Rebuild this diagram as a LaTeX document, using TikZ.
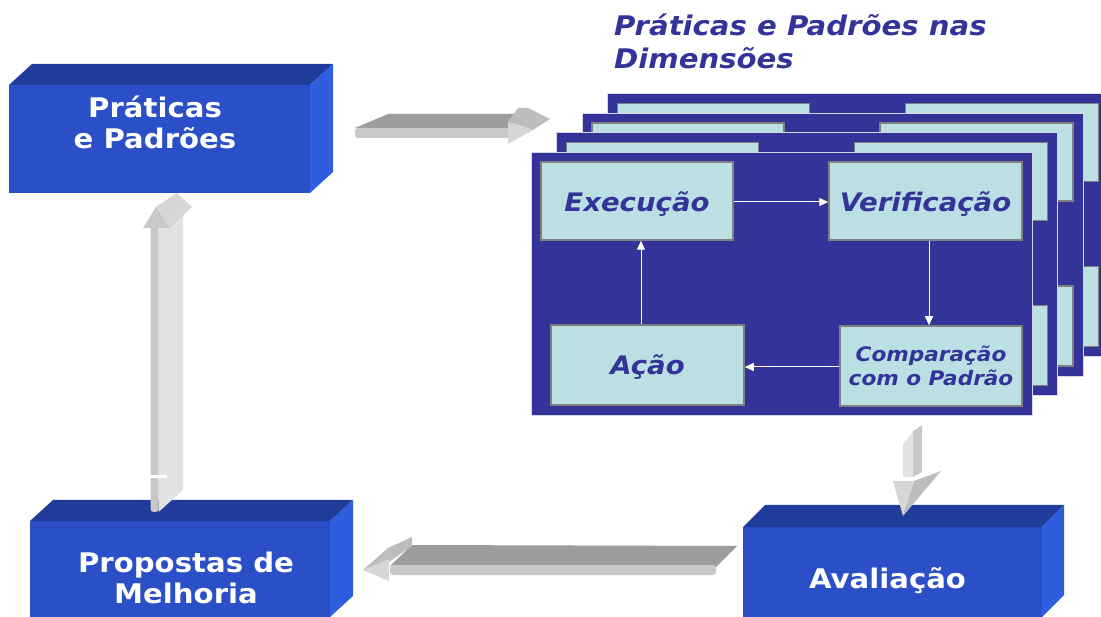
\documentclass[tikz,border=0pt]{standalone}
\usepackage{fontspec}
\setmainfont{DejaVu Sans}[FakeStretch=1.08]
\usetikzlibrary{arrows.meta}
\definecolor{bfront}{HTML}{2A4FC6}
\definecolor{btop}{HTML}{203C9A}
\definecolor{bside}{HTML}{2E5DE0}
\definecolor{navy}{HTML}{343399}
\definecolor{cyanbox}{HTML}{BAE0E4}
\definecolor{boxline}{HTML}{808080}
\definecolor{txtnavy}{HTML}{333399}
\definecolor{gA}{HTML}{9C9C9C}
\definecolor{gB}{HTML}{C8C8C8}
\definecolor{gC}{HTML}{BDBDBD}
\definecolor{gD}{HTML}{D6D6D6}
\definecolor{gE}{HTML}{E2E2E2}
\begin{document}
\begin{tikzpicture}[x=1pt,y=-1pt,
  frontface/.style={fill=bfront, draw=none, inner sep=0pt, outer sep=0pt, anchor=north west},
  topface/.style={fill=btop},
  sideface/.style={fill=bside},
  boxtext/.style={text=white, font=\bfseries\fontsize{27}{31}\selectfont, align=center, inner sep=0pt},
  stepbox/.style={fill=cyanbox, draw=boxline, line width=1.5pt, inner sep=0pt,
    text=txtnavy, font=\bfseries\itshape\fontsize{25.5}{30}\selectfont, align=center},
  framebg/.style={fill=navy, draw=white!80!navy, line width=0.8pt},
  backbox/.style={fill=cyanbox, draw=boxline, line width=1.5pt},
  flow/.style={draw=white, line width=1pt, -{Triangle[width=8pt,length=9pt]}}
]
\useasboundingbox (0,0) rectangle (1101,617);
\clip (0,0) rectangle (1101,617);

% ---------- title ----------
\node[anchor=west, inner sep=0pt, align=left, text=txtnavy,
  font=\bfseries\itshape\fontsize{27}{33}\selectfont] (title) at (614,41)
  {Práticas e Padrões nas\\Dimensões};

% ---------- back frames ----------
\foreach \k in {3,2,1}{
  \begin{scope}[shift={({25.5*\k},{-19.5*\k})}]
    \path[framebg] (531,152) rectangle (1032,415);
    \path[backbox] (541,162) rectangle (733,240);
    \path[backbox] (829,162) rectangle (1022,240);
    \path[backbox] (551,325) rectangle (744,405);
    \path[backbox] (840,325) rectangle (1022,405);
  \end{scope}
}
% ---------- front frame ----------
\node[framebg, minimum width=501pt, minimum height=263pt, inner sep=0pt, anchor=north west] (frame) at (531,152) {};

\node[stepbox, minimum width=192pt, minimum height=78pt, text height=22pt, text depth=0pt] (exec) at (637,201) {Execução};
\node[stepbox, minimum width=193pt, minimum height=78pt, text height=22pt, text depth=0pt] (verif) at (925.5,201) {Verificação};
\node[stepbox, minimum width=193pt, minimum height=80pt, text height=20pt, text depth=0pt] (acao) at (647.5,365) {Ação};
\node[stepbox, minimum width=182pt, minimum height=80pt,
  font=\bfseries\itshape\fontsize{20}{23.5}\selectfont] (comp) at (931,366) {Comparação\\com o Padrão};

\draw[flow] (exec.east |- 0,202) -- (verif.west |- 0,202);
\draw[flow] (verif.south -| 929,0) -- (comp.north -| 929,0);
\draw[flow] (comp.west |- 0,367) -- (acao.east |- 0,367);
\draw[flow] (acao.north -| 641,0) -- (exec.south -| 641,0);

% ---------- 3D blue boxes ----------
\node[frontface, minimum width=301pt, minimum height=108pt] (pp) at (9,85) {};
\fill[topface] (pp.north west) -- ++(23,-21) -- ++(301,0) -- (pp.north east) -- cycle;
\fill[sideface] (pp.north east) -- ++(23,-21) -- ++(0,108) -- (pp.south east) -- cycle;
\node[boxtext] (ppt) at (155,122) {Práticas\\e Padrões};

\node[frontface, minimum width=300pt, minimum height=96pt] (pm) at (30,521) {};
\fill[topface] (pm.north west) -- ++(23,-21) -- ++(300,0) -- (pm.north east) -- cycle;
\fill[sideface] (pm.north east) -- ++(23,-21) -- ++(0,96) -- (pm.south east) -- cycle;
\node[boxtext] (pmt) at (186,578) {Propostas de\\Melhoria};

\node[frontface, minimum width=299pt, minimum height=90pt] (av) at (743,527) {};
\fill[topface] (av.north west) -- ++(22,-22) -- ++(299,0) -- (av.north east) -- cycle;
\fill[sideface] (av.north east) -- ++(22,-22) -- ++(0,90) -- (av.south east) -- cycle;
\node[boxtext, anchor=base] (avt) at (887.5,588) {Avaliação};

% ---------- 3D grey arrows ----------
% top: Praticas -> stack
\coordinate (a1s) at (355,128);
\fill[gA] (a1s) -- (388,114) -- (520,114) -- (508,128) -- cycle;
\fill[gB, rounded corners=3pt] (a1s) rectangle (510,138);
\fill[gC] (508,122) -- (518,108) -- (528,108) -- (550,119) -- (533,130) -- cycle;
\fill[gD] (508,122) -- (533,130) -- (508,144) -- cycle;

% down: stack -> Avaliacao
\fill[gE] (903,444) -- (913,431) -- (913,477) -- (903,477) -- cycle;
\fill[gB] (913,431) -- (922,425) -- (922,472) -- (913,477) -- cycle;
\fill[white] (893,477) rectangle (940,481);
\fill[gC] (914,481) -- (941,471) -- (903,516) -- cycle;
\fill[gD] (893,481) -- (914,481) -- (903,516) -- cycle;

% bottom: Avaliacao -> Propostas
\fill[gA] (412,545) -- (737,546) -- (713,570) -- (390,566) -- cycle;
\fill[gB, rounded corners=3pt] (390,565) rectangle (716,575);
\fill[gC] (363,570) -- (388,548) -- (412,537) -- (412,546) -- (389,562) -- cycle;
\fill[gD] (363,570) -- (389,559) -- (389,581) -- cycle;

% up: Propostas -> Praticas
\fill[gB, rounded corners=3pt] (150.5,226) rectangle (158.5,512);
\fill[gE] (158.5,220) -- (183,205) -- (183,490) -- (158.5,512) -- cycle;
\fill[white] (150,475) rectangle (167,478.5);
\fill[gD] (156,207) -- (177,193) -- (192,207) -- (170,228) -- cycle;
\fill[gB] (143,228) -- (156,207) -- (170,228) -- cycle;
\end{tikzpicture}
\end{document}
